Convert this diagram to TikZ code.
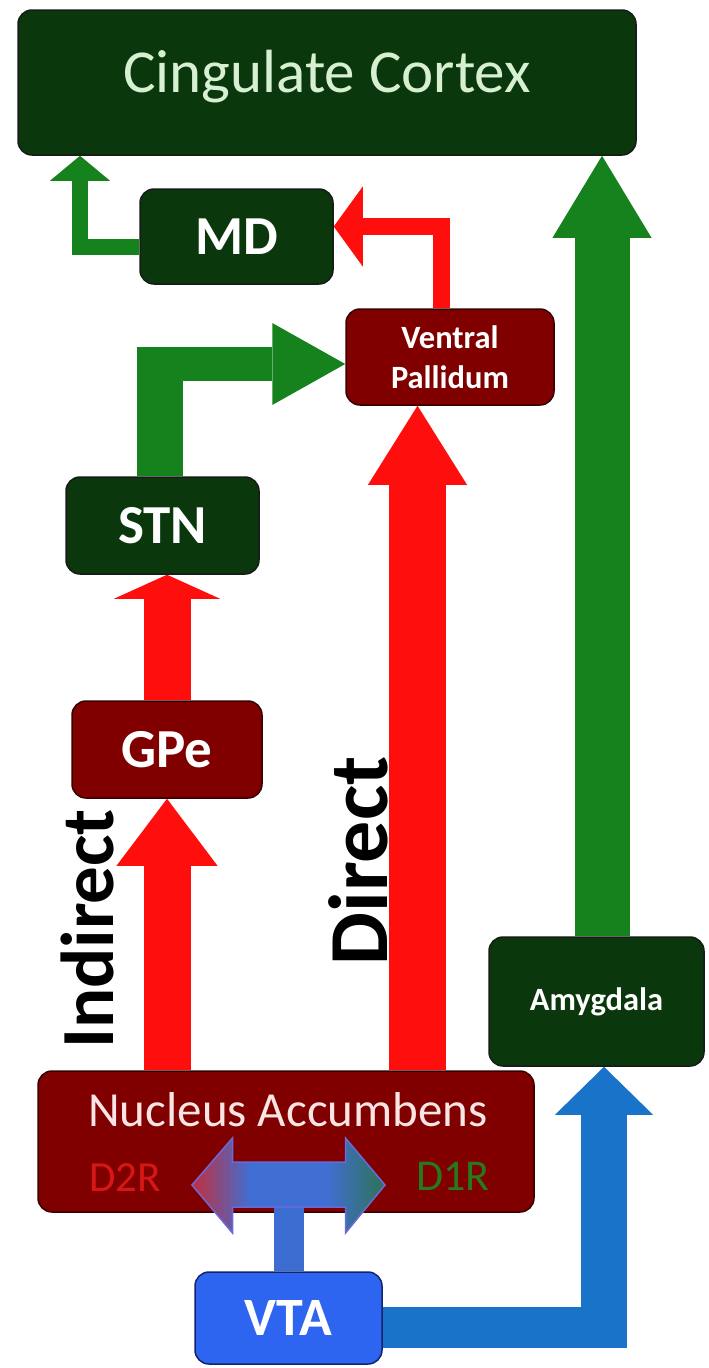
\documentclass[tikz,border=0pt]{standalone}
\usepackage{fontspec}
\setmainfont{Carlito}
\usetikzlibrary{arrows.meta,calc}
\definecolor{boxgreen}{RGB}{10,55,12}
\definecolor{boxred}{RGB}{128,0,0}
\definecolor{boxredline}{RGB}{55,0,0}
\definecolor{arrgreen}{RGB}{22,130,30}
\definecolor{arrred}{RGB}{255,14,14}
\definecolor{arrblue}{RGB}{25,115,200}
\definecolor{vtafill}{RGB}{45,100,240}
\definecolor{vtaline}{RGB}{20,35,110}
\definecolor{cctext}{RGB}{215,240,210}
\definecolor{nactext}{RGB}{250,228,228}
\definecolor{dtwo}{RGB}{215,22,22}
\definecolor{done}{RGB}{40,120,30}
\definecolor{dleft}{RGB}{195,45,60}
\definecolor{dmid}{RGB}{65,110,210}
\definecolor{dright}{RGB}{45,115,85}
\definecolor{dline}{RGB}{105,105,220}
\definecolor{stemblue}{RGB}{60,110,210}
\pgfdeclarehorizontalshading{dblshade}{100bp}{color(0bp)=(dleft); color(25bp)=(dleft); color(40bp)=(dmid); color(60bp)=(dmid); color(75bp)=(dright); color(100bp)=(dright)}
\begin{document}
\begin{tikzpicture}[x=1pt,y=-1pt,
  box/.style={line width=1.5pt, rounded corners=14pt, inner sep=0pt, align=center},
  gbox/.style={box, draw=black!90, fill=boxgreen, text=white},
  rbox/.style={box, draw=boxredline, fill=boxred, text=white},
  garr/.style={draw=arrgreen, line join=miter},
  rarr/.style={draw=arrred, line join=miter},
  barr/.style={draw=arrblue, line join=miter},
  bigbold/.style={font=\fontsize{55}{60}\selectfont\bfseries},
  smallbold/.style={font=\fontsize{32.5}{40}\selectfont\bfseries},
]
\useasboundingbox (0,0) rectangle (709,1368);

% boxes
\node[gbox, minimum width=618pt, minimum height=145pt, text=cctext,
      text height=43pt, text depth=24pt,
      font=\fontsize{61}{66}\selectfont] (cc) at (327,82.5) {Cingulate Cortex};
\node[gbox, minimum width=193pt, minimum height=95pt, bigbold] (md) at (236.5,236.5) {MD};
\node[rbox, minimum width=208pt, minimum height=96pt, smallbold] (vp) at (450,357) {Ventral\\Pallidum};
\node[gbox, minimum width=193pt, minimum height=97pt, bigbold] (stn) at (162.5,525.5) {STN};
\node[rbox, minimum width=190pt, minimum height=97pt, bigbold] (gpe) at (167,749.5) {GPe};
\node[gbox, minimum width=215pt, minimum height=129pt, smallbold] (amy) at (596.5,1001.5) {Amygdala};
\node[rbox, minimum width=496pt, minimum height=141pt] (nac) at (286,1141.5) {};
\node[text=nactext, font=\fontsize{49}{52}\selectfont] (nactxt) at (288,1110) {Nucleus Accumbens};
\node[text=dtwo, font=\fontsize{43}{46}\selectfont] (d2r) at (125,1178) {D2R};
\node[text=done, font=\fontsize{44}{46}\selectfont] (d1r) at (453,1176) {D1R};
\node[box, draw=vtaline, fill=vtafill, text=white, minimum width=187pt, minimum height=92pt,
      font=\fontsize{54}{60}\selectfont\bfseries] (vta) at (288.5,1318) {VTA};

% path labels
\node[rotate=90, font=\fontsize{75}{80}\selectfont\bfseries] (ind) at (87,929) {Indirect};
\node[rotate=90, font=\fontsize{84}{90}\selectfont\bfseries] (dir) at (358,861) {Direct};

% helper coordinates
\coordinate (kA) at (80,0);
\coordinate (kB) at (160,347);
\coordinate (kC) at (137,364);
\coordinate (kD) at (417.5,0);
\coordinate (kE) at (602,0);
\coordinate (kF) at (627,1327.5);
\coordinate (kG) at (604,1348);
\coordinate (kH) at (288.5,1184);

% MD -> Cingulate
\draw[garr, line width=16pt, -{Triangle[width=60pt,length=25pt,line width=0pt]}]
  ($(md.west)+(0,10)$) -| (kA |- cc.south);
% Ventral Pallidum -> MD
\draw[rarr, line width=17pt, -{Triangle[width=80pt,length=29pt,line width=0pt]}]
  ([xshift=-9pt]vp.north) |- ($(md.east)+(0,-10)$);
% STN -> Ventral Pallidum
\draw[garr, line width=46pt] (stn.north -| kB) -- (kB);
\draw[garr, line width=34pt, -{Triangle[width=82pt,length=73pt,line width=0pt]}]
  (kC) -- ($(vp.west)+(0,7)$);
% GPe -> STN
\draw[rarr, line width=47pt, -{Triangle[width=106pt,length=24pt,line width=0pt]}]
  (gpe.north) -- (gpe.north |- stn.south);
% NAcc -> GPe
\draw[rarr, line width=47pt, -{Triangle[width=101pt,length=67pt,line width=0pt]}]
  (nac.north -| gpe.south) -- (gpe.south);
% NAcc -> Ventral Pallidum (direct)
\draw[rarr, line width=57pt, -{Triangle[width=99pt,length=79pt,line width=0pt]}]
  (nac.north -| kD) -- (vp.south -| kD);
% Amygdala -> Cingulate
\draw[garr, line width=55pt, -{Triangle[width=99pt,length=82pt,line width=0pt]}]
  (amy.north -| kE) -- (cc.south -| kE);
% VTA -> Amygdala
\draw[barr, line width=41pt] ($(vta.east)+(0,9.5)$) -- (kF);
\draw[barr, line width=46pt, -{Triangle[width=98pt,length=48pt,line width=0pt]}]
  (kG) -- (amy.south -| kG);
% VTA -> NAcc receptors
\draw[draw=stemblue, line width=30pt] (vta.north) -- (vta.north |- kH);
\shadedraw[shading=dblshade, draw=dline, line width=1.5pt, line join=miter]
  ($(kH)+(-96.5,1)$) -- ($(kH)+(-56,-46)$) -- ($(kH)+(-56,-22)$) -- ($(kH)+(57,-22)$)
  -- ($(kH)+(57,-46)$) -- ($(kH)+(96.5,1)$) -- ($(kH)+(57,49)$) -- ($(kH)+(57,23)$)
  -- ($(kH)+(-56,23)$) -- ($(kH)+(-56,49)$) -- cycle;
\end{tikzpicture}
\end{document}
